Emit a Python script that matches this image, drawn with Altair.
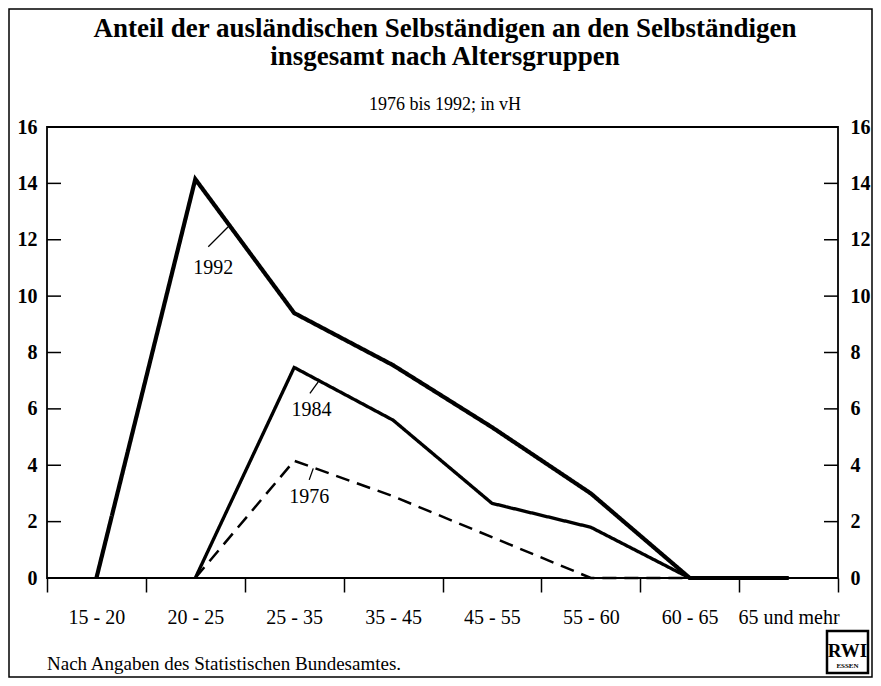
import altair as alt
import pandas as pd

# ---- data -------------------------------------------------------------
categories = ["15 - 20", "20 - 25", "25 - 35", "35 - 45", "45 - 55",
              "55 - 60", "60 - 65", "65 und mehr"]
years = ["1992", "1984", "1976"]
v1992 = [0.0, 14.15, 9.4, 7.55, 5.35, 3.0, 0.0, 0.0]
v1984 = [None, 0.0, 7.47, 5.6, 2.65, 1.8, 0.0, 0.0]
v1976 = [None, 0.0, 4.16, 2.9, 1.45, 0.0, 0.0, 0.0]
y_ticks = [2, 4, 6, 8, 10, 12, 14]

title_lines = ["Anteil der ausländischen Selbständigen an den Selbständigen",
               "insgesamt nach Altersgruppen"]
subtitle = "1976 bis 1992; in vH"
footnote = "Nach Angaben des Statistischen Bundesamtes."

# series-label anchors in data space (x: category index, band centre = i + 0.5)
label_years = ["1992", "1984", "1976"]
label_x = [1.682, 2.676, 2.652]
label_y = [10.99, 5.96, 2.88]
leader_x = [1.631, 2.659, 2.652]
leader_y = [11.75, 6.55, 3.48]
leader_x2 = [1.833, 2.743, 2.693]
leader_y2 = [12.46, 6.96, 3.89]

rows = []
for yr, vals in zip(years, [v1992, v1984, v1976]):
    for i, (c, v) in enumerate(zip(categories, vals)):
        if v is not None:
            rows.append({"year": yr, "cat": c, "pos": i + 0.5, "value": v})
df = pd.DataFrame(rows)
ann = pd.DataFrame({"year": label_years, "x": label_x, "y": label_y,
                    "lx": leader_x, "ly": leader_y,
                    "lx2": leader_x2, "ly2": leader_y2})
ticks_df = pd.DataFrame({"t": y_ticks})

FONT = "Liberation Serif"
W, H = 791, 451

xscale = alt.Scale(domain=[0, len(categories)], nice=False, zero=False)
yscale = alt.Scale(domain=[0, 16], nice=False)

label_expr = "[" + ",".join("'%s'" % c for c in categories) + "][datum.value] || ''"

x_axis = alt.Axis(values=list(range(len(categories) + 1)), labelExpr=label_expr,
                  tickSize=14, tickWidth=1.5, tickColor="black", domain=False,
                  grid=False, labelOffset=W / len(categories) / 2,
                  labelPadding=15, labelFont=FONT, labelFontSize=20,
                  labelColor="black", labelOverlap=False, labelFlush=False,
                  title=None)

left_axis = alt.Axis(values=list(range(0, 17, 2)), orient="left", ticks=False,
                     domain=False, grid=False, labelPadding=10, labelFont=FONT,
                     labelFontSize=20, labelFontWeight="bold", labelColor="black",
                     title=None, labelFlush=False)
right_axis = alt.Axis(values=list(range(0, 17, 2)), orient="right", ticks=False,
                      domain=False, grid=False, labelPadding=12, labelFont=FONT,
                      labelFontSize=20, labelFontWeight="bold", labelColor="black",
                      title=None, labelFlush=False)

lines = alt.Chart(df).mark_line(color="black", strokeCap="butt", strokeJoin="miter").encode(
    x=alt.X("pos:Q", scale=xscale, axis=x_axis),
    y=alt.Y("value:Q", scale=yscale, axis=left_axis),
    detail="year:N",
    strokeWidth=alt.StrokeWidth("year:N", scale=alt.Scale(domain=years, range=[4.2, 2.5, 1.8]), legend=None),
    strokeDash=alt.StrokeDash("year:N", scale=alt.Scale(domain=years, range=[[1, 0], [1, 0], [14, 8]]), legend=None),
)

right = alt.Chart(df).mark_point(opacity=0).encode(
    x=alt.X("pos:Q", scale=xscale, axis=x_axis),
    y=alt.Y("value:Q", scale=yscale, axis=right_axis),
)

tick_l = alt.Chart(ticks_df).mark_rule(color="black", strokeWidth=1.5).encode(
    y=alt.Y("t:Q", scale=yscale, axis=None), x=alt.value(0), x2=alt.value(14))
tick_r = alt.Chart(ticks_df).mark_rule(color="black", strokeWidth=1.5).encode(
    y=alt.Y("t:Q", scale=yscale, axis=None), x=alt.value(W - 14), x2=alt.value(W))

leaders = alt.Chart(ann).mark_rule(color="black", strokeWidth=1.3).encode(
    x=alt.X("lx:Q", scale=xscale, axis=x_axis), y=alt.Y("ly:Q", scale=yscale, axis=None),
    x2="lx2:Q", y2="ly2:Q")
labels = alt.Chart(ann).mark_text(font=FONT, fontSize=20, color="black").encode(
    x=alt.X("x:Q", scale=xscale, axis=x_axis), y=alt.Y("y:Q", scale=yscale, axis=None),
    text="year:N")

one = alt.Data(values=[{"a": 1}])
frame = alt.Chart(one).mark_rect(fillOpacity=0, stroke="black", strokeWidth=1.5).encode(
    x=alt.value(-38), x2=alt.value(825), y=alt.value(-118), y2=alt.value(550))
t1 = alt.Chart(one).mark_text(font=FONT, fontSize=27, fontWeight="bold", color="black",
                               baseline="alphabetic").encode(
    x=alt.value(398), y=alt.value(-90), text=alt.value(title_lines[0]))
t2 = alt.Chart(one).mark_text(font=FONT, fontSize=27, fontWeight="bold", color="black",
                               baseline="alphabetic").encode(
    x=alt.value(398), y=alt.value(-62), text=alt.value(title_lines[1]))
st = alt.Chart(one).mark_text(font=FONT, fontSize=18, color="black",
                               baseline="alphabetic").encode(
    x=alt.value(398), y=alt.value(-17), text=alt.value(subtitle))
note = alt.Chart(one).mark_text(font=FONT, fontSize=19, align="left", color="black",
                                 baseline="alphabetic").encode(
    x=alt.value(0), y=alt.value(543), text=alt.value(footnote))
logo_box = alt.Chart(one).mark_rect(fillOpacity=0, stroke="black", strokeWidth=2.5).encode(
    x=alt.value(780), x2=alt.value(821), y=alt.value(504), y2=alt.value(546))
logo_t1 = alt.Chart(one).mark_text(font=FONT, fontSize=19, fontWeight="bold", color="black",
                                    baseline="alphabetic").encode(
    x=alt.value(800.5), y=alt.value(530), text=alt.value("RWI"))
logo_t2 = alt.Chart(one).mark_text(font=FONT, fontSize=7, fontWeight="bold", color="black",
                                    baseline="alphabetic").encode(
    x=alt.value(800.5), y=alt.value(541), text=alt.value("ESSEN"))

chart = alt.layer(
    frame, tick_l, tick_r, lines, right, leaders, labels, t1, t2, st, note,
    logo_box, logo_t1, logo_t2
).resolve_axis(y="independent").properties(
    width=W, height=H,
    background="white",
    autosize=alt.AutoSizeParams(type="none"),
    padding={"left": 39, "top": 119, "right": 35, "bottom": 100},
).configure_view(stroke="black", strokeWidth=1.8)

chart.save("out.html", embed_options={"renderer": "svg", "actions": False})
